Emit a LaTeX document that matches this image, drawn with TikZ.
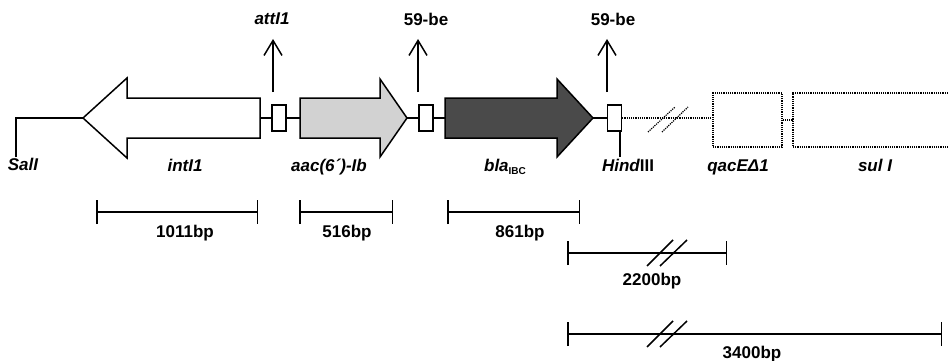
\documentclass[tikz,border=0pt]{standalone}
\usepackage{fontspec}
\setmainfont{Liberation Sans}
\usepackage{xcolor}
\definecolor{cassette}{HTML}{D2D2D2}
\definecolor{blagene}{HTML}{4A4A4A}
\usepackage{tikz}
\usetikzlibrary{arrows.meta}
\newcommand{\gn}[1]{{\itshape #1}}

\begin{document}
\begin{tikzpicture}[x=1pt, y=-1pt, line width=1.5pt,
  lab/.style={font=\fontsize{17}{20}\selectfont\bfseries, inner sep=0pt, anchor=base},
  sitebox/.style={draw, fill=white, minimum width=14pt, minimum height=26pt, inner sep=0pt},
  dotline/.style={dash pattern=on 1.2pt off 1pt, line width=1.2pt},
  dotbox/.style={draw, dotline, minimum width=69pt, minimum height=54pt, inner sep=0pt},
  siteup/.style={-{Straight Barb[length=15pt, width=18pt]}},
  ruler/.style={{Bar[width=24pt]}-{Bar[width=24pt]}}]
  \useasboundingbox (0,0) rectangle (948,361);

  % backbone, genes and sites
  \coordinate (salFoot) at (16,157);
  \coordinate (salCorner) at (16,118);
  \coordinate (intTip) at (83,118);
  \coordinate (intTail) at (260,118);
  \coordinate (aacTail) at (300,118);
  \coordinate (aacTip) at (407,118);
  \coordinate (blaTail) at (445,118);
  \coordinate (blaTip) at (593,118);
  \draw (salFoot) -- (salCorner) -- (intTip);
  \draw[fill=white] (260,98) -- (127,98) -- (127,78) -- (intTip)
       -- (127,158) -- (127,138) -- (260,138) -- cycle;
  \draw[fill=cassette] (300,98) -- (380,98) -- (380,79) -- (aacTip)
       -- (380,157) -- (380,138) -- (300,138) -- cycle;
  \draw[fill=blagene] (445,98) -- (557,98) -- (557,79) -- (blaTip)
       -- (557,157) -- (557,138) -- (445,138) -- cycle;
  \node[sitebox] (att) at (279,118) {};
  \node[sitebox] (beA) at (426,118) {};
  \node[sitebox] (beB) at (614.5,118) {};
  \draw (intTail) -- (att.west);
  \draw (att.east) -- (aacTail);
  \draw (aacTip) -- (beA.west);
  \draw (beA.east) -- (blaTail);
  \draw (blaTip) -- (beB.west);

  % 3' conserved segment
  \node[dotbox] (qac) at (747.5,120) {};
  \coordinate (sulLeft) at (793,120);
  \draw[dotline] (948,93) -| (793,147) -- (948,147);
  \draw[dotline] (beB.east) -- (beB.east -| qac.west);
  \draw[dotline] (qac.east) -- (sulLeft);
  \draw[dotline] (648,132) -- (675,107);
  \draw[dotline] (662,132) -- (688,107);
  \coordinate (hindTop) at (620,131);
  \coordinate (hindFoot) at (620,157);
  \draw (hindTop) -- (hindFoot);

  % recombination sites
  \foreach \x/\nm in {273/att, 418/beA, 607/beB} {
    \coordinate (\nm Foot) at (\x,92);
    \coordinate (\nm Head) at (\x,39);
    \draw[siteup] (\nm Foot) -- (\nm Head);
  }
  \node[lab] (attLab) at (272,25) {\gn{attI1}};
  \node[lab] (beALab) at (426,26) {59-be};
  \node[lab] (beBLab) at (613,26) {59-be};

  % gene labels
  \node[lab] (salLab) at (23,170) {\gn{SalI}};
  \node[lab] (intLab) at (185,171) {\gn{intI1}};
  \node[lab] (aacLab) at (329,171) {\gn{aac(6´)-Ib}};
  \node[lab] (blaLab) at (505,171) {\gn{bla}\raisebox{-3pt}{\fontsize{10}{10}\selectfont IBC}};
  \node[lab] (hindLab) at (628,171) {\gn{Hind}III};
  \node[lab] (qacLab) at (738,171) {\gn{qacEΔ1}};
  \node[lab] (sulLab) at (875,171) {\gn{sul I}};

  % size bars
  \coordinate (intL) at (96,212);   \coordinate (intR) at (258,212);
  \coordinate (aacL) at (299,212);  \coordinate (aacR) at (393,212);
  \coordinate (blaL) at (447,212);  \coordinate (blaR) at (580,212);
  \coordinate (midL) at (567,253);  \coordinate (midR) at (727,253);
  \coordinate (allL) at (567,334);  \coordinate (allR) at (942,334);
  \draw[ruler] (intL) -- (intR);
  \draw[ruler] (aacL) -- (aacR);
  \draw[ruler] (blaL) -- (blaR);
  \draw[ruler] (midL) -- (midR);
  \draw[ruler] (allL) -- (allR);
  \draw (647,266) -- (673,240);
  \draw (660,266) -- (687,240);
  \draw (647,347) -- (673,321);
  \draw (660,347) -- (687,321);
  \node[lab] (intLen) at (185,237) {1011bp};
  \node[lab] (aacLen) at (347,237) {516bp};
  \node[lab] (blaLen) at (520,237) {861bp};
  \node[lab] (midLen) at (652,285) {2200bp};
  \node[lab] (allLen) at (752,358) {3400bp};
\end{tikzpicture}
\end{document}
